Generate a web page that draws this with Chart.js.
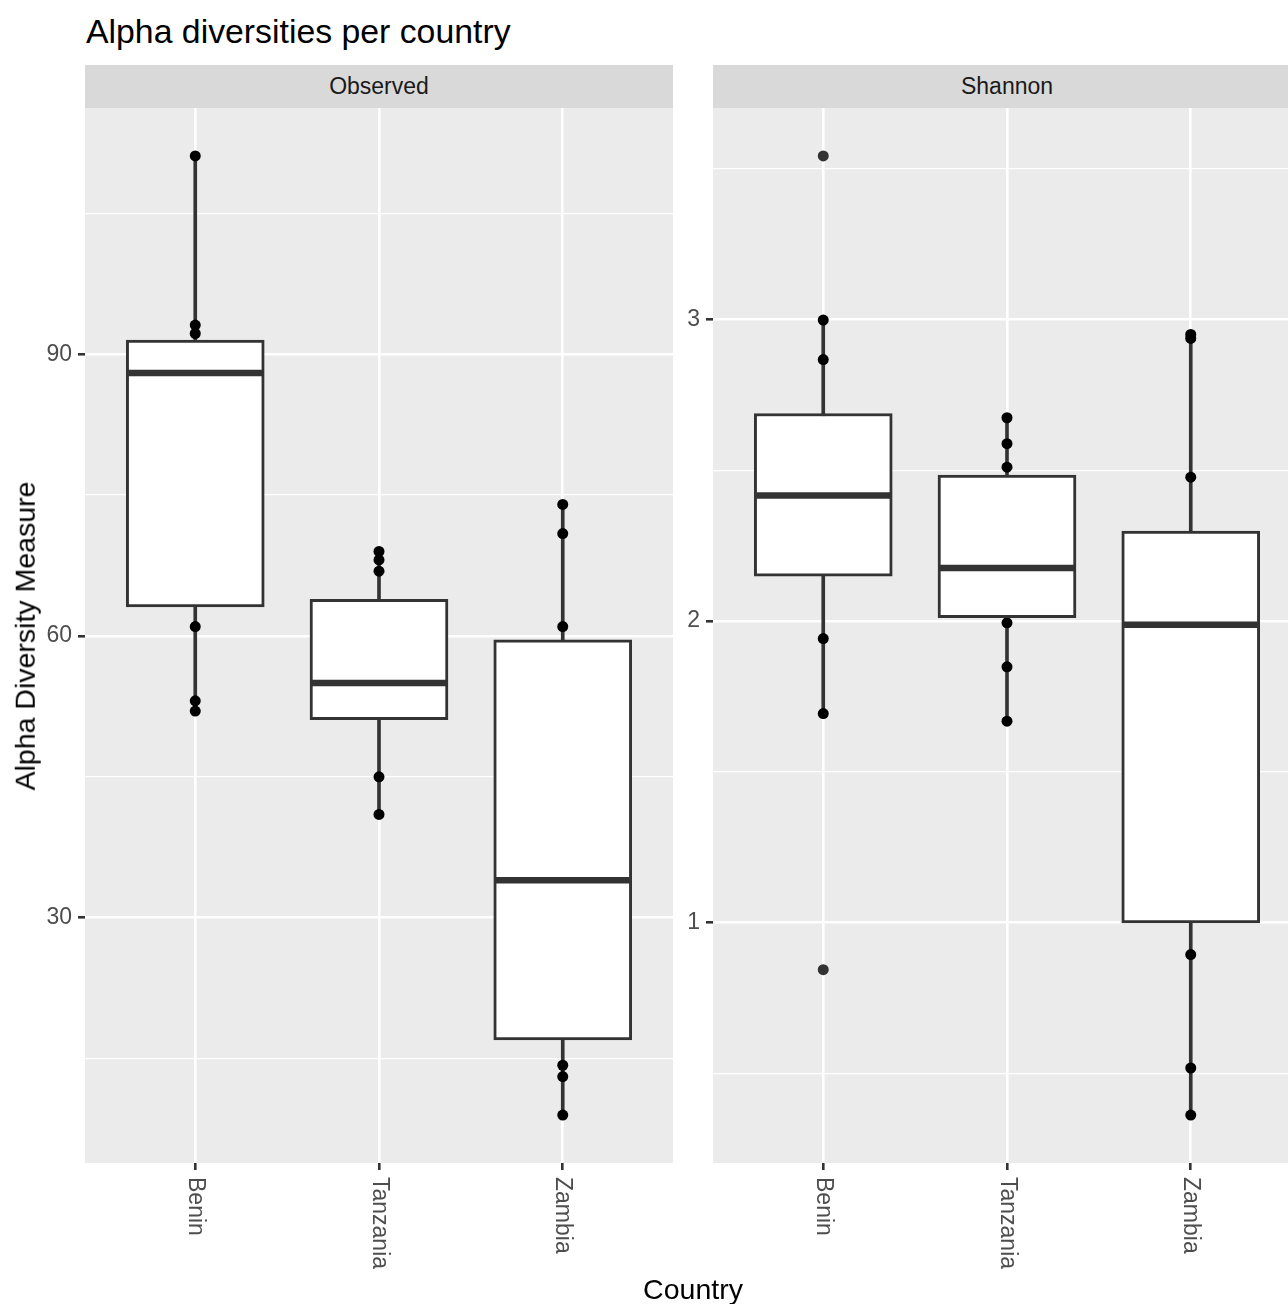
<!DOCTYPE html>
<html>
<head>
<meta charset="utf-8">
<title>Alpha diversities per country</title>
<script src="https://cdn.jsdelivr.net/npm/chart.js@4.4.1/dist/chart.umd.min.js"></script>
<style>
  html, body { margin: 0; padding: 0; width: 1288px; height: 1304px; overflow: hidden; background: #ffffff;
    font-family: "Liberation Sans", Arial, sans-serif; }
  .abs { position: absolute; white-space: nowrap; line-height: 1; }
  #title { left: 86px; top: 15px; font-size: 33.8px; color: #000000; }
  .strip { top: 65px; height: 43px; width: 588px; background: #D9D9D9; color: #1A1A1A; font-size: 23px;
    display: flex; align-items: center; justify-content: center; }
  #xtitle { left: 693px; top: 1289px; transform: translate(-50%, -50%); font-size: 28.5px; color: #000000; }
  #ytitle { left: 25px; top: 636px; transform: translate(-50%, -50%) rotate(-90deg); font-size: 28.5px; color: #000000; }
  canvas { position: absolute; top: 108px; }
  #observedChart { left: 0px; }
  #shannonChart { left: 673px; }
</style>
</head>
<body>
<div id="title" class="abs">Alpha diversities per country</div>
<div class="abs strip" style="left:85px;">Observed</div>
<div class="abs strip" style="left:713px;">Shannon</div>
<canvas id="observedChart" width="673" height="1196"></canvas>
<canvas id="shannonChart" width="628" height="1196"></canvas>
<div id="ytitle" class="abs">Alpha Diversity Measure</div>
<div id="xtitle" class="abs">Country</div>

<script>
// Countries on the x axis
const countries = ['Benin', 'Tanzania', 'Zambia'];

// Observed richness: y-axis breaks
const observedMajorTicks = [30, 60, 90];
const observedMinorTicks = [15, 45, 75, 105];

// Observed richness: box statistics per country
const observedLower = [63.1, 51.1, 17.0];
const observedMedian = [88.0, 55.0, 34.0];
const observedUpper = [91.5, 63.9, 59.6];
const observedWhiskerLow = [52.0, 41.0, 9.0];
const observedWhiskerHigh = [111.1, 69.0, 74.0];

// Observed richness: samples outside the boxes
const observedBenin = [111.1, 93.1, 92.2, 61.0, 53.1, 52.0];
const observedTanzania = [69.0, 68.1, 66.9, 45.0, 41.0];
const observedZambia = [74.0, 70.9, 61.0, 14.3, 13.1, 9.0];
const observedOutliersBenin = [];
const observedOutliersTanzania = [];
const observedOutliersZambia = [];

// Shannon index: y-axis breaks
const shannonMajorTicks = [1, 2, 3];
const shannonMinorTicks = [0.5, 1.5, 2.5, 3.5];

// Shannon index: box statistics per country
const shannonLower = [2.149, 2.011, 0.999];
const shannonMedian = [2.416, 2.176, 1.988];
const shannonUpper = [2.688, 2.484, 2.298];
const shannonWhiskerLow = [1.693, 1.668, 0.362];
const shannonWhiskerHigh = [2.998, 2.674, 2.950];

// Shannon index: samples outside the boxes
const shannonBenin = [2.998, 2.867, 1.942, 1.693];
const shannonTanzania = [2.674, 2.588, 2.510, 1.994, 1.848, 1.668];
const shannonZambia = [2.950, 2.937, 2.477, 0.894, 0.518, 0.362];
const shannonOutliersBenin = [3.542, 0.844];
const shannonOutliersTanzania = [];
const shannonOutliersZambia = [];

const FONT = '"Liberation Sans", Arial, sans-serif';
const BOX_LINE = '#333333';

// Grey panel behind the plotting region
const panelBackground = {
  id: 'panelBackground',
  beforeDraw(chart) {
    const { ctx, chartArea: a } = chart;
    ctx.save();
    ctx.fillStyle = '#EBEBEB';
    ctx.fillRect(a.left, a.top, a.right - a.left, a.bottom - a.top);
    ctx.restore();
  }
};

// Country names under each tick, rotated to read downwards
const countryLabels = {
  id: 'countryLabels',
  afterDraw(chart) {
    const { ctx, chartArea, scales: { x } } = chart;
    ctx.save();
    ctx.font = '23px ' + FONT;
    ctx.fillStyle = '#4D4D4D';
    ctx.textAlign = 'left';
    ctx.textBaseline = 'middle';
    x.ticks.forEach(t => {
      ctx.save();
      ctx.translate(x.getPixelForValue(t.value), chartArea.bottom + 14);
      ctx.rotate(Math.PI / 2);
      ctx.fillText(countries[t.value - 1], 0, 0);
      ctx.restore();
    });
    ctx.restore();
  }
};

function toPoints(groups) {
  const out = [];
  groups.forEach((vals, i) => vals.forEach(v => out.push({ x: i + 1, y: v })));
  return out;
}

function expandedRange(values) {
  const lo = Math.min(...values), hi = Math.max(...values);
  const pad = (hi - lo) * 0.05;
  return [lo - pad, hi + pad];
}

function buildPanel(canvasId, s) {
  const positions = countries.map((_, i) => i + 1);
  const allValues = [].concat(...s.points, ...s.outliers, s.whiskerLow, s.whiskerHigh);
  const [yMin, yMax] = expandedRange(allValues);
  const allTicks = [...s.major, ...s.minor].sort((a, b) => a - b);

  return new Chart(document.getElementById(canvasId), {
    type: 'bar',
    data: {
      datasets: [
        {
          type: 'line', label: 'median', order: 0, showLine: false,
          data: positions.map((x, i) => ({ x, y: s.median[i] })),
          pointStyle: 'line', pointRadius: 67, pointBorderWidth: 6.5,
          pointBorderColor: BOX_LINE, pointBackgroundColor: BOX_LINE
        },
        {
          type: 'bar', label: 'box', order: 1, grouped: false,
          data: positions.map((x, i) => ({ x, y: [s.lower[i], s.upper[i]] })),
          backgroundColor: '#FFFFFF', borderColor: BOX_LINE, borderWidth: 3,
          borderSkipped: false, barThickness: 138, maxBarThickness: 138
        },
        {
          type: 'line', label: 'outliers', order: 2, showLine: false,
          data: toPoints(s.outliers),
          pointRadius: 5.5, pointBorderWidth: 0,
          pointBackgroundColor: BOX_LINE, pointBorderColor: BOX_LINE
        },
        {
          type: 'line', label: 'samples', order: 3, showLine: false,
          data: toPoints(s.points),
          pointRadius: 5.5, pointBorderWidth: 0,
          pointBackgroundColor: '#000000', pointBorderColor: '#000000'
        },
        {
          type: 'bar', label: 'whiskers', order: 4, grouped: false,
          data: positions.map((x, i) => ({ x, y: [s.whiskerLow[i], s.whiskerHigh[i]] })),
          backgroundColor: BOX_LINE, borderWidth: 0,
          barThickness: 3, maxBarThickness: 3
        }
      ]
    },
    options: {
      responsive: false,
      animation: false,
      events: [],
      layout: { padding: 0, autoPadding: false },
      plugins: { legend: { display: false }, tooltip: { enabled: false }, title: { display: false } },
      scales: {
        x: {
          type: 'linear', min: 0.4, max: 3.6, offset: false,
          afterBuildTicks: scale => { scale.ticks = positions.map(v => ({ value: v })); },
          afterFit: scale => {
            scale.height = 141;
            scale.paddingLeft = 0; scale.paddingRight = 0;
          },
          border: { display: false },
          grid: {
            offset: false, color: '#FFFFFF', lineWidth: 2.6,
            drawTicks: true, tickLength: 7, tickColor: BOX_LINE, tickWidth: 2.6
          },
          ticks: { display: false }
        },
        y: {
          type: 'linear', min: yMin, max: yMax,
          afterBuildTicks: scale => { scale.ticks = allTicks.map(v => ({ value: v })); },
          afterFit: scale => {
            scale.width = s.axisWidth;
            scale.paddingTop = 0; scale.paddingBottom = 0;
          },
          border: { display: false },
          grid: {
            color: '#FFFFFF',
            lineWidth: c => (s.major.includes(c.tick.value) ? 2.6 : 1.3),
            drawTicks: true, tickLength: 7,
            tickColor: c => (s.major.includes(c.tick.value) ? BOX_LINE : 'rgba(0,0,0,0)'),
            tickWidth: 2.6
          },
          ticks: {
            autoSkip: false, padding: 6, color: '#4D4D4D',
            font: { family: FONT, size: 23 },
            callback: v => (s.major.includes(v) ? String(v) : '')
          }
        }
      }
    },
    plugins: [panelBackground, countryLabels]
  });
}

buildPanel('observedChart', {
  axisWidth: 85,
  major: observedMajorTicks, minor: observedMinorTicks,
  lower: observedLower, median: observedMedian, upper: observedUpper,
  whiskerLow: observedWhiskerLow, whiskerHigh: observedWhiskerHigh,
  points: [observedBenin, observedTanzania, observedZambia],
  outliers: [observedOutliersBenin, observedOutliersTanzania, observedOutliersZambia]
});

buildPanel('shannonChart', {
  axisWidth: 40,
  major: shannonMajorTicks, minor: shannonMinorTicks,
  lower: shannonLower, median: shannonMedian, upper: shannonUpper,
  whiskerLow: shannonWhiskerLow, whiskerHigh: shannonWhiskerHigh,
  points: [shannonBenin, shannonTanzania, shannonZambia],
  outliers: [shannonOutliersBenin, shannonOutliersTanzania, shannonOutliersZambia]
});
</script>
</body>
</html>
